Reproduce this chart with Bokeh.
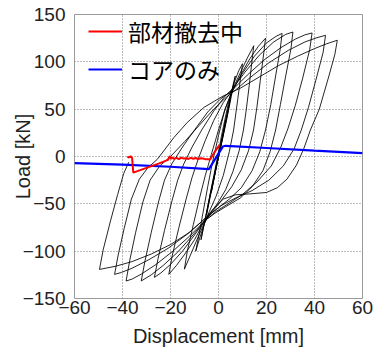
from bokeh.plotting import figure
from bokeh.models import Range1d, FixedTicker, Legend, LegendItem
from bokeh.embed import file_html
from bokeh.resources import INLINE

# ---- data ----
x_ticks = [-60, -40, -20, 0, 20, 40, 60]
y_ticks = [-150, -100, -50, 0, 50, 100, 150]

small_x = [0, 1.5, 3.0, 2.4, 0.8, -1.2, -3.0, -2.4, -0.8, 1.8, 4.0, 5.0, 4.2, 2.0, -0.5, -3.5, -5.0, -4.2, -2.0, 0.6, 3.5, 6.0, 7.0, 6.0, 3.5, 0.5, -2.5, -5.5, -7.3]
small_y = [0, 19, 38, 30, 10, -14, -38, -30, -10, 20, 48, 62, 52, 25, -5, -40, -62, -52, -25, 8, 45, 75, 85, 72, 40, 5, -30, -65, -88]

c1_x = [-7.3, -6.0, -3.5, -1.0, 1.5, 4.0, 6.5, 8.5, 10.0, 9.3, 8.0, 6.3, 4.5, 2.0, -1.0, -3.8, -6.0, -7.8, -9.5]
c1_y = [-88, -72, -40, -8, 25, 55, 78, 91, 98, 85, 60, 28, 5, -20, -42, -58, -72, -86, -100]

c2_x = [-9.5, -8.3, -6.5, -4.5, -2.5, 0.0, 2.5, 5.7, 9.0, 12.0, 14.7, 14.0, 12.8, 11.6, 10.4, 8.6, 6.0, 3.0, -0.5, -3.5, -5.8, -8.5, -11.5, -14.2]
c2_y = [-100, -85, -60, -32, -6, 22, 48, 70, 88, 104, 117, 102, 75, 50, 28, 6, -16, -35, -50, -60, -70, -85, -103, -119]

c3_x = [-14.2, -13.0, -10.5, -8.0, -5.5, -3.0, 0.0, 3.0, 5.7, 9.0, 13.0, 16.5, 19.6, 18.9, 17.4, 16.0, 14.6, 12.5, 9.5, 5.5, 1.0, -2.5, -5.8, -10.0, -14.0, -17.5, -20.7]
c3_y = [-119, -100, -72, -45, -20, 2, 28, 52, 68, 85, 103, 116, 125, 110, 80, 52, 28, 6, -14, -32, -47, -58, -68, -88, -103, -115, -124.5]

c4_x = [-20.7, -19.3, -16.5, -13.5, -11.0, -8.5, -5.5, -2.0, 2.0, 5.7, 10.0, 15.0, 20.0, 24.0, 26.5, 25.7, 23.8, 21.8, 19.6, 17.2, 14.0, 9.5, 4.5, 0.0, -3.0, -5.8, -10.0, -15.0, -20.0, -24.0, -26.7]
c4_y = [-124.5, -105, -75, -45, -22, -3, 17, 38, 57, 70, 88, 106, 120, 127, 130, 113, 85, 55, 28, 5, -15, -33, -45, -54, -60, -68, -83, -100, -114, -123, -127.7]

c5_x = [-26.7, -25.2, -22.5, -19.5, -17.0, -14.5, -11.0, -7.0, -2.0, 2.5, 6.0, 11.0, 17.0, 23.0, 28.0, 31.0, 30.2, 28.0, 25.8, 23.8, 21.5, 18.5, 14.0, 9.0, 3.0, -1.5, -5.8, -11.0, -17.0, -23.0, -28.0, -32.2]
c5_y = [-127.7, -108, -78, -48, -25, -8, 10, 28, 48, 63, 72, 89, 107, 121, 129, 131.5, 114, 85, 55, 28, 5, -15, -32, -44, -53, -60, -68, -84, -101, -115, -125, -131.5]

c6_x = [-32.2, -30.6, -28.0, -25.0, -22.5, -19.5, -15.0, -10.0, -4.5, 0.5, 5.7, 12.0, 19.0, 26.0, 32.0, 36.0, 39.0, 38.0, 35.0, 32.0, 29.0, 26.0, 22.0, 16.0, 10.0, 4.0, -1.0, -5.8, -12.0, -19.0, -26.0, -32.0, -36.0, -38.5]
c6_y = [-131.5, -110, -80, -48, -25, -8, 10, 28, 47, 60, 70, 86, 102, 115, 124, 128.5, 130.5, 113, 82, 54, 30, 10, -10, -27, -40, -50, -58, -68, -84, -100, -114, -124, -129.5, -131.5]

c7_x = [-38.5, -37.0, -34.5, -31.5, -28.5, -24.5, -20.0, -14.0, -8.0, -2.0, 3.0, 7.0, 13.0, 21.0, 29.0, 36.0, 41.0, 44.6, 43.6, 40.5, 37.5, 34.5, 31.5, 27.0, 21.0, 14.0, 7.0, 1.0, -5.8, -13.0, -21.0, -29.0, -36.0, -40.5, -43.3]
c7_y = [-131.5, -110, -80, -48, -25, -10, 0, 16, 33, 50, 62, 70, 83, 99, 112, 121, 125.5, 128, 110, 80, 52, 28, 8, -10, -25, -36, -44, -52, -66, -82, -97, -109, -118, -122.5, -124.5]

c8_x = [-43.3, -41.8, -39.3, -36.3, -33.0, -29.5, -25.5, -18.6, -13.0, -6.0, 2.0, 9.0, 17.0, 25.0, 33.0, 40.0, 45.0, 49.5, 48.5, 46.0, 42.0, 38.3, 35.5, 32.5, 28.5, 24.5, 20.0, 13.0, 7.0, 2.0, -2.0, -5.8, -12.0, -20.0, -28.0, -36.0, -43.0, -49.6, -48.0, -45.0, -42.0, -39.5, -37.4]
c8_y = [-124.5, -104, -76, -45, -24, -12, -3, 20, 36, 52, 64, 72, 84, 96, 106, 114, 119, 122.8, 108, 85, 50, 28, 8, -9, -24, -33, -38, -39.5, -40.5, -45, -55, -66, -80, -93, -103, -111, -116, -119.3, -98, -68, -40, -18, -6]

blue_x = [-60, -40, -20, -4, 1.8, 3, 20, 40, 60]
blue_y = [-7, -8.5, -10.8, -13.3, 10.5, 11.3, 9, 6.2, 3.6]

red_x = [-37.9, -37.6, -37.0, -36.6, -36.4, -36.0, -35.5, -30, -25, -21, -20.6, -20.2, -19.8, -19.2, -18.5, -17.5, -16.5, -15.5, -14.5, -13.5, -12.5, -11.5, -10.5, -9.5, -8.5, -7.5, -6.5, -5.5, -4.5, -3.5, -2.5, -1.5, -0.5, 0.5]
red_y = [-1.5, -0.5, -0.8, 0.5, -0.5, -1.5, -17, -12, -7.5, -3.5, -1, 0.5, -2.5, -1, -2.5, -1.5, -2.8, -1.2, -2.2, -1.8, -2.6, -1.4, -2.4, -1.6, -2.6, -1.8, -2.2, -2.8, -3.0, -3.2, 1, 5, 9, 12]

legend_labels = ["部材撤去中", "コアのみ"]
x_label = "Displacement [mm]"
y_label = "Load [kN]"

# ---- figure ----
FONT = "Liberation Sans"
p = figure(width=381, height=354, output_backend="svg", toolbar_location=None,
           x_range=Range1d(-60, 60), y_range=Range1d(-150, 150),
           min_border_left=74, min_border_right=19, min_border_top=14, min_border_bottom=56)
p.background_fill_color = "white"
p.border_fill_color = "white"
p.outline_line_color = "#9a9a9a"
p.outline_line_width = 1

xt = FixedTicker(ticks=x_ticks)
yt = FixedTicker(ticks=y_ticks)
p.xaxis.ticker = xt
p.yaxis.ticker = yt
p.xgrid.ticker = xt
p.ygrid.ticker = yt
for ax in (p.xaxis[0], p.yaxis[0]):
    ax.axis_line_color = None
    ax.major_tick_line_color = None
    ax.minor_tick_line_color = None
    ax.major_tick_out = 0
    ax.major_tick_in = 0
    ax.minor_tick_out = 0
    ax.minor_tick_in = 0
    ax.major_label_text_font = FONT
    ax.major_label_text_font_size = "19px"
    ax.major_label_text_color = "#222222"
    ax.axis_label_text_font = FONT
    ax.axis_label_text_font_size = "20px"
    ax.axis_label_text_font_style = "normal"
    ax.axis_label_text_color = "#222222"
p.xaxis.major_label_standoff = 2
p.yaxis.major_label_standoff = 9
p.xaxis.axis_label = x_label
p.yaxis.axis_label = y_label
p.xaxis.axis_label_standoff = 8
p.yaxis.axis_label_standoff = -14

for g in (p.xgrid[0], p.ygrid[0]):
    g.grid_line_color = "#7a7a7a"
    g.grid_line_dash = "1 2"
    g.grid_line_width = 1

for cx, cy in [(small_x, small_y), (c1_x, c1_y), (c2_x, c2_y), (c3_x, c3_y), (c4_x, c4_y),
               (c5_x, c5_y), (c6_x, c6_y), (c7_x, c7_y), (c8_x, c8_y)]:
    p.line(cx, cy, line_color="black", line_width=1.0, line_alpha=0.85)

blue_r = p.line(blue_x, blue_y, line_color="#0000ff", line_width=2.2)
red_r = p.line(red_x, red_y, line_color="#ff0000", line_width=2.0)

legend = Legend(items=[LegendItem(label=legend_labels[0], renderers=[red_r]),
                       LegendItem(label=legend_labels[1], renderers=[blue_r])],
                location=(14, 212), orientation="vertical",
                label_text_font="Noto Sans CJK JP", label_text_font_size="23px",
                label_text_color="black", label_standoff=6,
                glyph_width=34, glyph_height=26, label_height=26, spacing=4,
                padding=0, margin=0, background_fill_alpha=0, border_line_color=None)
p.add_layout(legend)

open("out.html", "w").write(file_html(p, INLINE))
